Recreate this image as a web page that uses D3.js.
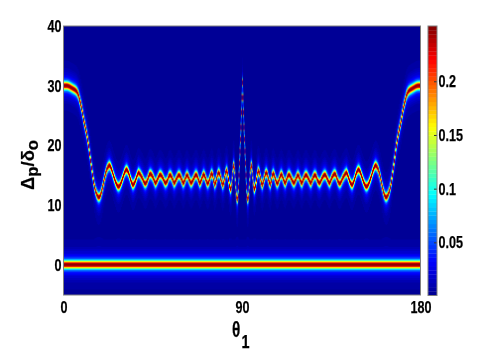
<!DOCTYPE html>
<html lang="en">
<head>
<meta charset="UTF-8">
<title>Spectrum map</title>
<script src="https://d3js.org/d3.v7.min.js"></script>
<style>
  body { margin: 0; background: #fff; overflow: hidden; }
  canvas { position: absolute; filter: blur(0.35px); }
  svg { position: absolute; left: 0; top: 0; }
  text { font-family: "Liberation Sans", Arial, sans-serif; font-weight: bold; fill: #000; stroke: #000; stroke-width: 0.25px; }
</style>
</head>
<body>
<canvas id="map"></canvas>
<svg width="491" height="354"></svg>
<script>
// Ridge centre, 0.5 deg steps up to 84, 0.25 deg steps after that.
// The picture is symmetric about 90 so only the left half is listed.
const ridgeTheta = d3.range(0, 84, 0.5).concat(d3.range(84, 90.01, 0.25));
const ridgeDelta = [
  30.0, 30.0, 30.0, 30.0, 29.95, 29.9, 29.8, 29.7, 29.6, 29.5,
  29.4, 29.3, 29.15, 28.95, 28.6, 28.2, 27.6, 26.95, 26.2, 25.3,
  24.3, 23.5, 22.7, 21.9, 20.9, 19.9, 18.6, 17.4, 16.2, 15.0,
  13.9, 13.0, 12.3, 11.8, 11.45, 11.3, 11.4, 11.75, 12.3, 13.0,
  13.8, 14.6, 15.3, 15.9, 16.3, 16.55, 16.6, 16.4, 16.0, 15.5,
  14.9, 14.4, 13.9, 13.5, 13.2, 13.1, 13.2, 13.5, 13.9, 14.4,
  14.9, 15.4, 15.75, 15.9, 15.75, 15.4, 14.9, 14.3, 13.8, 13.45,
  13.45, 13.7, 14.1, 14.6, 15.1, 15.4, 15.3, 15.1, 14.8, 14.5,
  14.1, 13.75, 13.6, 13.75, 14.1, 14.6, 15.05, 15.2, 15.1, 14.85,
  14.5, 14.05, 13.7, 13.85, 14.2, 14.6, 14.95, 15.05, 14.95, 14.7,
  14.35, 13.95, 13.7, 13.8, 14.05, 14.45, 14.85, 15.0, 14.9, 14.55,
  14.1, 13.7, 13.85, 14.2, 14.55, 14.9, 15.0, 14.9, 14.55, 14.1,
  13.7, 13.85, 14.25, 14.75, 15.0, 14.8, 14.35, 13.95, 13.7, 13.85,
  14.15, 14.55, 14.9, 15.05, 14.9, 14.55, 14.1, 13.7, 13.9, 14.35,
  14.85, 15.1, 14.85, 14.35, 13.85, 13.6, 13.85, 14.35, 14.95, 15.25,
  14.95, 14.1, 13.5, 13.8, 14.4, 15.1, 15.4, 15.15, 14.5, 13.85,
  13.4, 13.75, 14.5, 15.35, 15.7, 15.2, 14.25, 13.2,
  12.7, 12.8, 13.2, 14.0, 15.1, 16.1, 16.6, 16.5,
  15.9, 14.9, 13.6, 12.3, 11.4, 11.05, 11.0, 11.5,
  13, 15, 17, 19, 21, 23, 25.5, 28, 30.5
];

// Cross section of a band: distance from the centre against value
const bandOffset = [0, 0.25, 0.42, 0.6, 0.78, 1.0, 1.35, 1.9, 3, 5, 10];
const bandValue = [0.25, 0.235, 0.18, 0.135, 0.09, 0.055, 0.035, 0.02, 0.008, 0.002, 0];

const xTicks = [0, 90, 180];
const yTicks = [-5, 0, 10, 20, 30, 40];
const yTickLabels = ['', '0', '10', '20', '30', '40'];
const cbTicks = [0.05, 0.1, 0.15, 0.2];
const cbTickLabels = ['0.05', '0.1', '0.15', '0.2'];
const jetPos = [0, 0.125, 0.375, 0.625, 0.875, 1];
const jetColors = ['#00008f', '#0000ff', '#00ffff', '#ffff00', '#ff0000', '#800000'];

const left = 63.5, right = 420.5, top_ = 26, bottom = 295;
const cbLeft = 428, cbRight = 437;
const vMin = 0.0005, vMax = 0.2515;
const levels = 64;

const x = d3.scaleLinear().domain([0, 180]).range([left, right]);
const y = d3.scaleLinear().domain([40, -5]).range([top_, 294.5]);
const cbY = d3.scaleLinear().domain([vMin, vMax]).range([295.5, 26]);
const band = d3.scaleLinear().domain(bandOffset).range(bandValue).clamp(true);
const jet = d3.scaleLinear().domain(jetPos).range(jetColors);
const level = d3.scaleQuantize().domain([vMin, vMax]).range(d3.range(levels));
const levelColor = d3.range(levels).map(i => d3.rgb(jet((i + 0.5) / levels)));

// Full set of columns, mirrored about 90
const thetaAll = ridgeTheta.concat(ridgeTheta.slice(0, -1).reverse().map(t => 180 - t));
const deltaAll = ridgeDelta.concat(ridgeDelta.slice(0, -1).reverse());

// Draw the map four times oversized and shrink it, the thin steep parts then average out
const sx = 4, sy = 2;
const plotW = right - left, plotH = bottom - top_;
const big = document.createElement('canvas');
big.width = plotW * sx;
big.height = plotH * sy;
const bigCtx = big.getContext('2d');
const img = bigCtx.createImageData(big.width, big.height);

thetaAll.forEach((theta, i) => {
  const prev = i > 0 ? (theta + thetaAll[i - 1]) / 2 : 0;
  const next = i < thetaAll.length - 1 ? (theta + thetaAll[i + 1]) / 2 : 180;
  const x0 = Math.round((x(prev) - left) * sx);
  const x1 = Math.round((x(next) - left) * sx);
  for (let py = 0; py < big.height; py++) {
    const d = y.invert(top_ + (py + 0.5) / sy);
    const v = band(Math.abs(d)) + band(Math.abs(d - deltaAll[i]));
    const c = levelColor[level(v)];
    for (let px = x0; px < x1; px++) {
      const k = (py * big.width + px) * 4;
      img.data[k] = c.r;
      img.data[k + 1] = c.g;
      img.data[k + 2] = c.b;
      img.data[k + 3] = 255;
    }
  }
});
bigCtx.putImageData(img, 0, 0);

const canvas = d3.select('#map')
  .attr('width', plotW)
  .attr('height', plotH)
  .style('left', left + 'px')
  .style('top', top_ + 'px')
  .node();
const ctx = canvas.getContext('2d');
ctx.imageSmoothingEnabled = true;
ctx.imageSmoothingQuality = 'high';
ctx.drawImage(big, 0, 0, plotW, plotH);

const svg = d3.select('svg');

// Image was squeezed sideways, so the bold labels are narrower than normal
function squeeze(sel, factor) {
  sel.each(function () {
    const t = d3.select(this);
    if (!t.text()) return;
    t.attr('lengthAdjust', 'spacingAndGlyphs')
      .attr('textLength', this.getComputedTextLength() * factor);
  });
}

const xAxis = svg.append('g')
  .attr('transform', `translate(0,${bottom})`)
  .call(d3.axisBottom(x).tickValues(xTicks).tickSize(0).tickPadding(6));
xAxis.selectAll('text').attr('font-size', 17).call(squeeze, 0.74);

const yAxis = svg.append('g')
  .attr('transform', `translate(${left},0)`)
  .call(d3.axisLeft(y).tickValues(yTicks).tickSize(0).tickPadding(2)
    .tickFormat((d, i) => yTickLabels[i]));
yAxis.selectAll('text').attr('font-size', 17).call(squeeze, 0.74);

svg.selectAll('.domain').remove();

svg.append('rect')
  .attr('x', left).attr('y', top_)
  .attr('width', plotW).attr('height', plotH)
  .attr('fill', 'none').attr('stroke', '#808080');

// Colorbar
svg.append('g').selectAll('rect')
  .data(d3.range(levels))
  .enter().append('rect')
  .attr('x', cbLeft)
  .attr('width', cbRight - cbLeft)
  .attr('y', d => cbY(vMin + (d + 1) * (vMax - vMin) / levels))
  .attr('height', (295.5 - 26) / levels + 0.3)
  .attr('fill', d => levelColor[d]);

const cbAxis = svg.append('g')
  .attr('transform', `translate(${cbRight},0)`)
  .call(d3.axisRight(cbY).tickValues(cbTicks).tickSize(-3).tickPadding(4)
    .tickFormat((d, i) => cbTickLabels[i]));
cbAxis.select('.domain').remove();
cbAxis.selectAll('line').attr('stroke', '#333');
cbAxis.selectAll('text').attr('font-size', 17).attr('x', 1.5).call(squeeze, 0.74);

svg.append('rect')
  .attr('x', cbLeft).attr('y', 26)
  .attr('width', cbRight - cbLeft).attr('height', 269.5)
  .attr('fill', 'none').attr('stroke', '#808080');

// x title
svg.append('text')
  .attr('x', 232).attr('y', 337)
  .attr('font-size', 22)
  .text('θ')
  .call(squeeze, 0.7);
svg.append('text')
  .attr('x', 241.5).attr('y', 348)
  .attr('font-size', 18)
  .text('1')
  .call(squeeze, 0.8);

// y title
const yTitle = svg.append('text')
  .attr('transform', 'translate(33.5,190) rotate(-90) scale(0.88,0.9)')
  .attr('font-size', 21);
yTitle.append('tspan').text('Δ');
yTitle.append('tspan').attr('font-size', 19).attr('dy', 5).text('p');
yTitle.append('tspan').attr('dy', -5).text('/δ');
yTitle.append('tspan').attr('font-size', 19).attr('dy', 5).text('o');
</script>
</body>
</html>
